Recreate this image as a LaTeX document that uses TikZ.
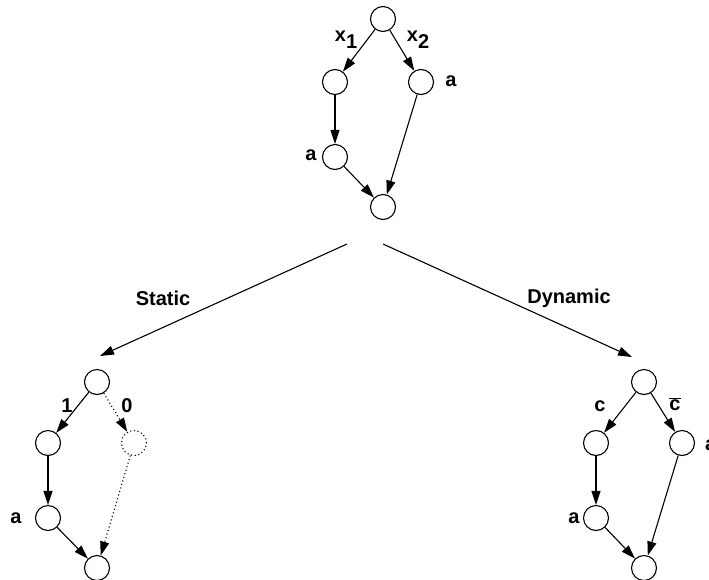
\documentclass[tikz,border=0pt]{standalone}
\usepackage{fontspec}
\setmainfont{Liberation Sans}
\usetikzlibrary{arrows.meta}
\tikzset{
    % knoten
    vertex/.style={circle,draw,line width=1.1pt,minimum size=25pt,inner sep=0pt},
    ghost/.style={vertex,dash pattern=on 1.1pt off 2.6pt},
    % pfeile
    blackarrow/.style={
        line width=1.1pt,
        black,
        -{Triangle[length=14pt,width=9pt]}
    },
    dotarrow/.style={blackarrow,dash pattern=on 1.1pt off 2.6pt},
    lbl/.style={font=\fontsize{20}{22}\selectfont\bfseries,inner sep=0pt}
}
\newcommand{\subx}[1]{x\raisebox{-7pt}{#1}}

\begin{document}
\begin{tikzpicture}[x=1pt,y=-1pt]
    \useasboundingbox (0,0) rectangle (709,579);

    % ===================== oben =====================
    \node[vertex] (t0) at (383,19) {};
    \node[vertex] (t1) at (335,82) {};
    \node[vertex] (t2) at (421,82) {};
    \node[vertex] (t3) at (335,157) {};
    \node[vertex] (t4) at (383,207) {};

    \draw[blackarrow] (t0) to (t1);
    \draw[blackarrow] (t0) to (t2);
    \draw[blackarrow] (t1) to (t3);
    \draw[blackarrow] (t3) to (t4);
    \draw[blackarrow] (t2) to (t4);

    \node[lbl] (tx1) at (346,40) {\subx{1}};
    \node[lbl] (tx2) at (418,40) {\subx{2}};
    \node[lbl] (ta2) at (451,81) {a};
    \node[lbl] (ta3) at (311,155) {a};

    % ===================== verzweigung =====================
    \coordinate (sl) at (347,244);
    \coordinate (el) at (100,356);
    \coordinate (sr) at (383,244);
    \coordinate (er) at (632,357);
    \draw[blackarrow] (sl) to (el);
    \draw[blackarrow] (sr) to (er);
    \node[lbl] (stat) at (163,298) {Static};
    \node[lbl] (dyn) at (569,298) {Dynamic};

    % ===================== links (statisch) =====================
    \node[vertex] (l0) at (97,382) {};
    \node[vertex] (l1) at (48,443) {};
    \node[ghost] (l2) at (134,443) {};
    \node[vertex] (l3) at (48,518) {};
    \node[vertex] (l4) at (97,568) {};

    \draw[blackarrow] (l0) to (l1);
    \draw[dotarrow] (l0) to (l2);
    \draw[blackarrow] (l1) to (l3);
    \draw[blackarrow] (l3) to (l4);
    \draw[dotarrow] (l2) to (l4);

    \node[lbl] (l1lab) at (67,406) {1};
    \node[lbl] (l0lab) at (127,406) {0};
    \node[lbl] (lalab) at (16,518) {a};

    % ===================== rechts (dynamisch) =====================
    \node[vertex] (r0) at (644,382) {};
    \node[vertex] (r1) at (596,443) {};
    \node[vertex] (r2) at (682,443) {};
    \node[vertex] (r3) at (596,518) {};
    \node[vertex] (r4) at (644,568) {};

    \draw[blackarrow] (r0) to (r1);
    \draw[blackarrow] (r0) to (r2);
    \draw[blackarrow] (r1) to (r3);
    \draw[blackarrow] (r3) to (r4);
    \draw[blackarrow] (r2) to (r4);

    \node[lbl] (rclab) at (600,406) {c};
    \node[lbl] (rcblab) at (675,404) {$\overline{\mbox{c}}$};
    \node[lbl,anchor=west] (ralab) at (705,445) {a};
    \node[lbl] (ra3lab) at (574,518) {a};
\end{tikzpicture}
\end{document}
